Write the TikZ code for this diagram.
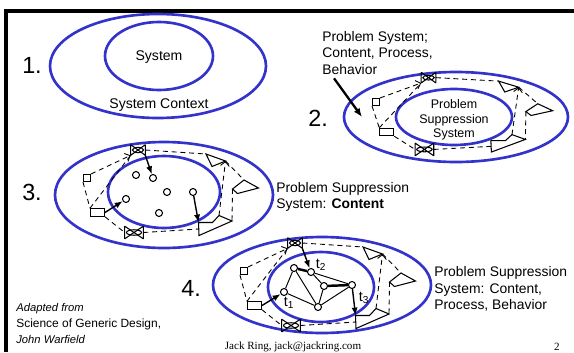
\documentclass[tikz,border=0pt]{standalone}
\usepackage{fontspec}
\setmainfont{Liberation Serif}
\setsansfont{Liberation Sans}
\usetikzlibrary{arrows.meta}
\definecolor{ringblue}{RGB}{51,51,204}

\begin{document}
\begin{tikzpicture}[
  x=0.02cm,
  y=-0.02cm,
  font=\sffamily,
  boundary/.style={draw=ringblue, line width=1.5pt},
  frame/.style={draw=black, line width=2.6pt},
  link/.style={draw=black, line width=0.5pt, dash pattern=on 2.8pt off 2.2pt},
  glyph/.style={draw=black, line width=0.6pt, inner sep=0pt},
  bowtie/.style={inner sep=0pt, minimum width=#1},
  token/.style={circle, draw=black, line width=0.6pt, fill=white,
    minimum size=0.14cm, inner sep=0pt},
  flow/.style={draw=black, line width=0.8pt, -{Latex[length=4.5pt,width=3.5pt]}},
  pointer/.style={draw=black, line width=1.3pt, -{Latex[length=5pt,width=4pt]}},
  tie/.style={draw=black, line width=0.55pt},
  strongtie/.style={draw=black, line width=1.4pt},
  numeral/.style={font=\fontsize{13.3}{16}\selectfont\sffamily, inner sep=0pt},
  note/.style={font=\fontsize{7.9}{9.5}\selectfont\sffamily, align=left,
    anchor=west, inner sep=0pt},
  tlabel/.style={font=\fontsize{8.2}{9.5}\selectfont\sffamily, inner sep=0pt},
  credit/.style={anchor=west, inner sep=0pt},
  network/.pic={
    \node[glyph, minimum size=0.14cm] (-sq) at (0,0) {};
    \node[glyph, minimum width=0.28cm, minimum height=0.15cm] (-rc) at (10.5,34.5) {};
    \node[bowtie=0.28cm, minimum height=0.2cm] (-tb) at (51,-28) {};
    \node[bowtie=0.36cm, minimum height=0.24cm] (-bb) at (47,54.5) {};
    \foreach \bw/\rx in {-tb/0.11cm,-bb/0.15cm} {
      \draw[glyph] (\bw.north west) -- (\bw.south west)
        (\bw.north east) -- (\bw.south east)
        (\bw.north west) -- (\bw.south east)
        (\bw.south west) -- (\bw.north east);
      \draw[glyph] (\bw.center) ellipse [x radius=\rx, y radius=0.055cm];
    }
    \coordinate (-t1) at (119,-24);
    \coordinate (-t2) at (138.5,-17);
    \coordinate (-t3) at (125,-11.5);
    \coordinate (-d1) at (145.5,11);
    \coordinate (-d2) at (157,2);
    \coordinate (-d3) at (171.5,10);
    \coordinate (-d4) at (150.5,15.5);
    \coordinate (-p1) at (111.5,44.5);
    \coordinate (-p2) at (125.5,44.5);
    \coordinate (-p3) at (132,37.5);
    \coordinate (-p4) at (145,43);
    \coordinate (-p5) at (112,57.5);
    \coordinate (-pl) at (111.5,51);
    \draw[glyph] (-t1) -- (-t2) -- (-t3) -- cycle;
    \draw[glyph] (-d1) -- (-d2) -- (-d3) -- (-d4) -- cycle;
    \draw[glyph] (-p1) -- (-p2) -- (-p3) -- (-p4) -- (-p5) -- cycle;
    % dashed ring of problem relations
    \draw[link, -{Straight Barb[length=2.5pt]}] (-sq.north east) -- (-tb.south west);
    \draw[link] (-rc.north west) -- (-tb.south west);
    \draw[link] (-sq.south west) -- (-rc.north west);
    \draw[link] (-rc.south east) -- (-bb.west);
    \draw[link] (-bb.east) -- (-pl);
    \draw[link] (-tb.east) -- (-t1);
    \draw[link, -{Straight Barb[length=2.5pt]}] (-p3) -- (-t2);
    \draw[link] (-t2) -- (-d2);
    \draw[link] (-d1) -- (-p4);
  }
]

\useasboundingbox (0,0) rectangle (574,352);
\draw[frame] (6,352) -- (6,11) -- (574,11);

% 1. system in its context
\draw[boundary] (158,66) ellipse (108 and 52);
\draw[boundary] (159,56) ellipse (54 and 34);
\node[numeral] (n1) at (32,65) {1.};
\node[font=\fontsize{8}{9.6}\selectfont\sffamily] (sys1) at (159,57) {System};
\node[font=\fontsize{8}{9.6}\selectfont\sffamily] (ctx1) at (159,105) {System Context};

% 2. problem system around the suppression system
\draw[boundary] (456,117) ellipse (112 and 45);
\draw[boundary] (454,117) ellipse (58 and 28);
\node[numeral] (n2) at (318,118) {2.};
\node[font=\fontsize{7.1}{8.2}\selectfont\sffamily, align=center] (pss2) at (454,120)
  {Problem\\Suppression\\System};
\node[note, font=\fontsize{7.9}{9.6}\selectfont\sffamily] (lbl2) at (322,53)
  {Problem System;\\Content, Process,\\Behavior};
\pic[xscale=1.03, yscale=0.87] (p2) at (376,102) {network};
\coordinate (tip2) at (362,117);
\draw[pointer] (lbl2.south west) ++(12,3) -- (tip2);

% 3. content only
\draw[boundary] (164,195) ellipse (109 and 53);
\draw[boundary] (164,192) ellipse (56 and 36);
\node[numeral] (n3) at (32,192) {3.};
\node[note, font=\fontsize{7.9}{9.1}\selectfont\sffamily] (lbl3) at (276,197)
  {Problem Suppression\\System: \textbf{Content}};
\pic (p3) at (87,178) {network};
\node[token] (a1) at (136,175) {};
\node[token] (a2) at (153,178) {};
\node[token] (a3) at (167,192) {};
\node[token] (a4) at (193,192) {};
\node[token] (a5) at (159,213) {};
\node[token] (a6) at (126,199) {};
\draw[flow] (p3-tb.south east) -- (a2);
\draw[flow] (p3-rc.east) -- (a6);
\draw[flow] (a4) -- (p3-p1);

% 4. content, process and behavior
\draw[boundary] (322,285) ellipse (109 and 48);
\draw[boundary] (321,287) ellipse (53 and 35);
\node[numeral] (n4) at (191,288) {4.};
\node[note, font=\fontsize{7.9}{9.5}\selectfont\sffamily] (lbl4) at (434,289)
  {Problem Suppression\\System: Content,\\Process, Behavior};
\pic (p4) at (244,271) {network};
\node[token] (b1) at (294,268) {};
\node[token] (b2) at (311,272) {};
\node[token] (b3) at (324,286) {};
\node[token] (b4) at (352,285) {};
\node[token] (b5) at (318,307) {};
\node[token] (b6) at (284,292) {};
\draw[tie] (b1) -- (b6);
\draw[tie] (b1) -- (b5);
\draw[tie] (b2) -- (b3);
\draw[tie] (b2) -- (b4);
\draw[tie] (b3) -- (b5);
\draw[tie] (b6) -- (b5);
\draw[tie] (b5) -- (b4);
\draw[strongtie] (b1) -- (b2);
\draw[strongtie] (b3) -- (b4);
\draw[flow] (p4-tb.south east) -- (b2);
\draw[flow] (p4-rc.east) -- (b6);
\draw[flow] (b4) -- (p4-p1);
\node[tlabel] (t1) at (289,303) {t\textsubscript{1}};
\node[tlabel] (t2) at (321,265) {t\textsubscript{2}};
\node[tlabel] (t3) at (364,298) {t\textsubscript{3}};

% source and footer
\node[credit, font=\fontsize{6.4}{8}\selectfont\sffamily\itshape] (src1) at (16,309) {Adapted from};
\node[credit, font=\fontsize{6.8}{8}\selectfont\sffamily] (src2) at (16,324) {Science of Generic Design,};
\node[credit, font=\fontsize{6.4}{8}\selectfont\sffamily\itshape] (src3) at (16,339) {John Warfield};
\node[font=\fontsize{6.3}{8}\selectfont\rmfamily, inner sep=0pt] (foot) at (293,347)
  {Jack Ring, jack@jackring.com};
\node[font=\fontsize{6.3}{8}\selectfont\rmfamily, inner sep=0pt] (page) at (557,347) {2};

\end{tikzpicture}
\end{document}
